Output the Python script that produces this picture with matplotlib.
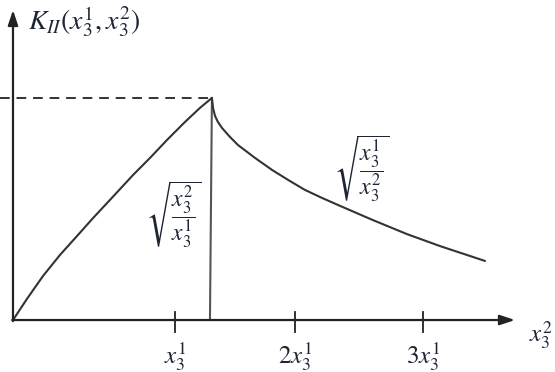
import matplotlib
matplotlib.use("Agg")
import matplotlib.pyplot as plt

plt.rcParams['mathtext.fontset'] = 'stix'

# Data in schematic units: x in units of the x3^1 tick distance from origin, y normalised to the peak
rise_x = [0.0, 0.086, 0.185, 0.290, 0.395, 0.494, 0.599, 0.741, 0.846, 0.951, 1.062, 1.154, 1.228]
rise_y = [0.0, 0.095, 0.198, 0.293, 0.378, 0.459, 0.541, 0.653, 0.730, 0.811, 0.892, 0.955, 1.0]
drop_x = [1.228, 1.216]
drop_y = [1.0, 0.0]
fall_x = [1.228, 1.235, 1.247, 1.265, 1.290, 1.340, 1.389, 1.494, 1.599, 1.698, 1.802, 1.907, 2.019,
          2.222, 2.432, 2.636, 2.914]
fall_y = [1.0, 0.955, 0.919, 0.892, 0.865, 0.824, 0.788, 0.730, 0.676, 0.631, 0.586, 0.550, 0.514,
          0.450, 0.387, 0.333, 0.266]
peak_value = 1.0
tick_pos = [1.0, 1.741, 2.531]
tick_labels = [r'$x_3^1$', r'$2x_3^1$', r'$3x_3^1$']

TXT = '#1c2536'
LINE = '#333333'

fig = plt.figure(figsize=(5.55, 3.72), dpi=100)
ax = fig.add_axes([0, 0, 1, 1])
ax.set_xlim(-0.0802, 3.346)
ax.set_ylim(-0.234, 1.441)
ax.axis('off')

# axes with arrows
ax.annotate('', xy=(3.099, 0), xytext=(-0.005, 0),
            arrowprops=dict(arrowstyle='-|>,head_length=0.9,head_width=0.3', color='#222222', lw=1.6,
                            shrinkA=0, shrinkB=0))
ax.annotate('', xy=(0, 1.396), xytext=(0, -0.005),
            arrowprops=dict(arrowstyle='-|>,head_length=0.9,head_width=0.3', color='#222222', lw=1.6,
                            shrinkA=0, shrinkB=0))

# dashed peak level
ax.plot([-0.08, 1.228], [peak_value, peak_value], ls=(0, (5, 3.5)), color=LINE, lw=1.4)

# curves
ax.plot(rise_x, rise_y, color=LINE, lw=1.5, solid_capstyle='round', solid_joinstyle='round')
ax.plot(drop_x, drop_y, color='#555555', lw=1.5)
ax.plot(fall_x, fall_y, color=LINE, lw=1.5, solid_capstyle='round', solid_joinstyle='round')

# ticks
for tp, tl in zip(tick_pos, tick_labels):
    ax.plot([tp, tp], [0.036, -0.054], color='#222222', lw=1.3)
    ax.text(tp, -0.16, tl, ha='center', va='center', fontsize=18, color=TXT)

ax.text(0.093, 1.342, r'$K_{II}(x_3^1,x_3^2)$', ha='left', va='center', fontsize=20, color=TXT)
ax.text(3.185, -0.07, r'$x_3^2$', ha='left', va='center', fontsize=18, color=TXT)
ax.text(0.994, 0.477, r'$\sqrt{\dfrac{x_3^2}{x_3^1}}$', ha='center', va='center', fontsize=17, color=TXT)
ax.text(2.154, 0.685, r'$\sqrt{\dfrac{x_3^1}{x_3^2}}$', ha='center', va='center', fontsize=17, color=TXT)

fig.savefig('out.png', dpi=100)
